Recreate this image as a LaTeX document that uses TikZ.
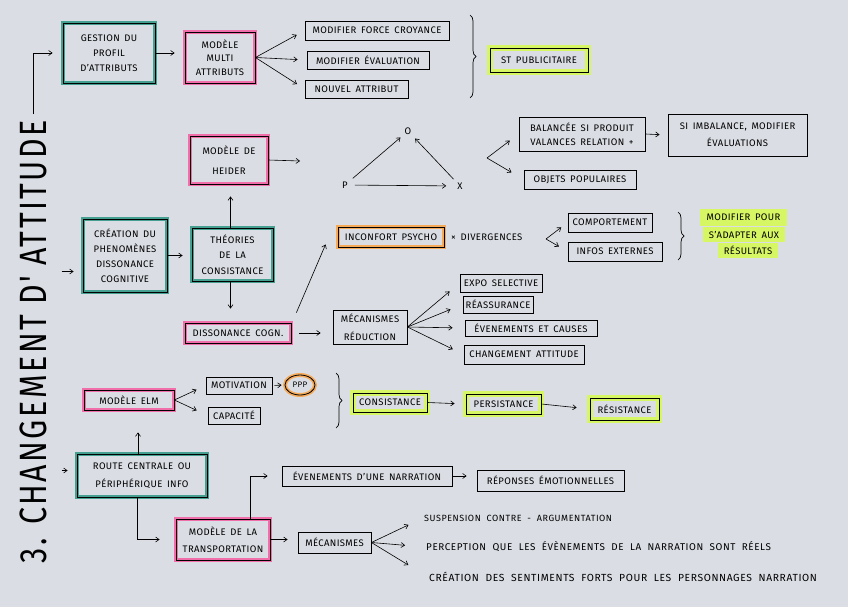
\documentclass[tikz,border=0pt]{standalone}
\usepackage{fontspec}
\usepackage{graphicx}
\setmainfont{Fira Sans}[LetterSpace=4,WordSpace=1.6]
\newfontfamily\widefont{Fira Sans}[LetterSpace=6,WordSpace=2]
\newfontfamily\titlefont{Fira Sans}[LetterSpace=8]
\usetikzlibrary{arrows.meta,shapes.geometric,decorations.pathreplacing}
\definecolor{paper}{RGB}{218,221,227}
\definecolor{tealc}{RGB}{70,160,145}
\definecolor{pinkc}{RGB}{240,110,170}
\definecolor{limec}{RGB}{215,246,100}
\definecolor{orangec}{RGB}{245,170,90}
\begin{document}
\begin{tikzpicture}[x=1pt,y=-1pt, font=\fontsize{9.5}{15}\selectfont,
  >={Straight Barb[length=3.5pt,width=5pt]},
  arr/.style={->, line width=0.6pt},
  plain/.style={draw=black, line width=0.8pt, align=center, inner sep=1pt},
  tealbox/.style={plain, preaction={draw=tealc, line width=4pt}},
  pinkbox/.style={plain, preaction={draw=pinkc, line width=4.5pt}},
  greenbox/.style={plain, preaction={draw=limec, line width=6pt}},
  orangebox/.style={plain, preaction={draw=orangec, line width=4pt}},
  lbl/.style={inner sep=1pt, align=center},
  hl/.style={fill=limec, inner sep=2pt},
  br/.style={decorate, decoration={brace, amplitude=6pt}, line width=0.7pt},
]
\fill[paper] (0,0) rectangle (848,607);
\useasboundingbox (0,0) rectangle (848,607);

% title
\node[rotate=90, font=\titlefont\fontsize{38}{38}\selectfont, inner sep=0pt] (title) at (33,342) {\scalebox{0.8}[1]{3. CHANGEMENT D' ATTITUDE}};

% top row
\node[tealbox, minimum width=92, minimum height=60] (gestion) at (109,53) {GESTION DU\\PROFIL\\D'ATTRIBUTS};
\node[pinkbox, minimum width=70, minimum height=51, font=\fontsize{9.5}{13.5}\selectfont] (multi) at (220,57.5) {MODÈLE\\MULTI\\ATTRIBUTS};
\node[plain, minimum width=144, minimum height=19] (mfc) at (377,30.5) {MODIFIER FORCE CROYANCE};
\node[plain, minimum width=122, minimum height=18] (mev) at (368,60) {MODIFIER ÉVALUATION};
\node[plain, minimum width=103, minimum height=18] (nat) at (356.5,89) {NOUVEL ATTRIBUT};
\node[greenbox, minimum width=98, minimum height=24] (stpub) at (539,60) {ST PUBLICITAIRE};
\draw[br] (470,15) -- (470,98);

\draw[arr, shorten >=10pt] ([yshift=6pt]title.east) |- (gestion.west);
\draw[arr, shorten >=10pt] (gestion.east) -- (gestion.east -| multi.west);
\draw[arr, shorten >=9pt] (multi.east) -- (mfc.west);
\draw[arr, shorten >=9pt] (multi.east) -- (mev.west);
\draw[arr, shorten >=9pt] (multi.east) -- (nat.west);

% Heider
\node[pinkbox, minimum width=78, minimum height=48, font=\fontsize{9.5}{20}\selectfont] (heider) at (229,160) {MODÈLE DE\\HEIDER};
\coordinate (tri) at (300,161);
\draw[arr] (heider.east) -- (tri);
\node[lbl] (P) at (345,185) {P};
\node[lbl] (O) at (408,131) {O};
\node[lbl] (X) at (460,186) {X};
\draw[arr, shorten <=5pt, shorten >=4pt] (P) -- (O);
\draw[arr, shorten <=6pt, shorten >=10pt] (P) -- (X);
\draw[arr, shorten <=4pt, shorten >=4pt] (X) -- (O);
\node[plain, minimum width=126, minimum height=34, font=\fontsize{9.5}{14}\selectfont] (balance) at (582,134) {BALANCÉE SI PRODUIT\\VALANCES RELATION +};
\node[plain, minimum width=139, minimum height=42, font=\fontsize{9.5}{17}\selectfont] (imbal) at (737.5,135) {SI IMBALANCE, MODIFIER\\ÉVALUATIONS};
\node[plain, minimum width=112, minimum height=19] (objets) at (580,179.5) {OBJETS POPULAIRES};
\coordinate (fh) at (487,158);
\draw[arr, shorten >=11pt] (fh) -- (balance.west);
\draw[arr, shorten >=14pt] (fh) -- (objets.west);
\draw[arr, shorten >=8pt] (balance.east) -- (imbal.west);

% dissonance
\node[tealbox, minimum width=84, minimum height=73] (creation) at (125,255.5) {CRÉATION DU\\PHENOMÈNES\\DISSONANCE\\COGNITIVE};
\node[tealbox, minimum width=81, minimum height=53, font=\fontsize{9.5}{15.5}\selectfont] (theories) at (232.5,254.5) {THÉORIES\\DE LA\\CONSISTANCE};
\node[pinkbox, minimum width=106, minimum height=20] (disso) at (238,333) {DISSONANCE COGN.};
\draw[arr] ([xshift=-21pt,yshift=-16pt]creation.west) -- ([xshift=-9pt,yshift=-16pt]creation.west);
\draw[arr, shorten >=9pt] (creation.east) -- (creation.east -| theories.west);
\draw[arr, shorten >=12pt] ([xshift=-2pt]theories.north) -- ([xshift=-2pt]theories.north |- heider.south);
\draw[arr, shorten >=14pt] ([xshift=-2pt]theories.south) -- ([xshift=-2pt]theories.south |- disso.north);

\node[orangebox, minimum width=106, minimum height=20] (inconf) at (391,237) {INCONFORT PSYCHO};
\node[lbl, anchor=west] (div) at (450,237) {× DIVERGENCES};
\draw[arr] ([xshift=5pt,yshift=10pt]disso.north east) -- ([xshift=-12pt,yshift=3pt]inconf.south west);
\node[plain, minimum width=84, minimum height=19] (comport) at (610,222.5) {COMPORTEMENT};
\node[plain, minimum width=94, minimum height=19] (infos) at (615,251.5) {INFOS EXTERNES};
\coordinate (fd) at (546,239);
\draw[arr, shorten >=8pt] (fd) -- (comport.west);
\draw[arr, shorten >=10pt] (fd) -- (infos.west);
\draw[br] (678,212) -- (678,260);
\node[hl, minimum width=87, minimum height=17] (mp1) at (743.5,217.5) {MODIFIER POUR};
\node[hl, minimum width=82, minimum height=15] (mp2) at (744,234.5) {S'ADAPTER AUX};
\node[hl, minimum width=60, minimum height=15] (mp3) at (748,250.5) {RÉSULTATS};

\node[plain, minimum width=74, minimum height=34, font=\fontsize{9.5}{18}\selectfont] (mecred) at (370,327) {MÉCANISMES\\RÉDUCTION};
\draw[arr, shorten <=8pt, shorten >=12pt] (disso.east) -- (disso.east -| mecred.west);
\node[plain, minimum width=82, minimum height=18] (expo) at (501,283) {EXPO SELECTIVE};
\node[plain, minimum width=70, minimum height=17] (reass) at (498,304.5) {RÉASSURANCE};
\node[plain, minimum width=132, minimum height=16] (evc) at (531,328) {ÉVENEMENTS ET CAUSES};
\node[plain, minimum width=120, minimum height=19] (chg) at (524,354.5) {CHANGEMENT ATTITUDE};
\draw[arr, shorten >=13pt] (mecred.east) -- (expo.west);
\draw[arr, shorten >=13pt] (mecred.east) -- (reass.west);
\draw[arr, shorten >=12pt] (mecred.east) -- (evc.west);
\draw[arr, shorten >=12pt] (mecred.east) -- (chg.west);

% ELM
\node[pinkbox, minimum width=90, minimum height=20] (elm) at (129,400) {MODÈLE ELM};
\node[plain, minimum width=66, minimum height=17] (motiv) at (239,385.5) {MOTIVATION};
\node[plain, minimum width=52, minimum height=17] (capac) at (234,415.5) {CAPACITÉ};
\node[ellipse, draw=black, line width=0.8pt, preaction={draw=orangec, line width=4pt}, minimum width=30, minimum height=20, inner sep=0pt, font=\fontsize{8}{9}\selectfont] (ppp) at (300,385) {PPP};
\draw[arr, shorten >=10pt] (elm.east) -- (motiv.west);
\draw[arr, shorten >=12pt] (elm.east) -- (capac.west);
\draw[arr, shorten <=2pt, shorten >=3pt] (motiv.east) -- (ppp.west);
\draw[br] (336,373) -- (336,428);
\node[greenbox, minimum width=74, minimum height=19] (consist) at (390,402.5) {CONSISTANCE};
\node[greenbox, minimum width=75, minimum height=20] (persist) at (503.5,404) {PERSISTANCE};
\node[greenbox, minimum width=69, minimum height=22] (resist) at (624.5,409) {RÉSISTANCE};
\draw[arr, shorten >=11pt] (consist.east) -- (persist.west);
\draw[arr, shorten >=13pt] (persist.east) -- (resist.west);

% route
\node[tealbox, minimum width=130, minimum height=43, font=\fontsize{9.5}{18}\selectfont] (route) at (142,475.5) {ROUTE CENTRALE OU\\PÉRIPHÉRIQUE INFO};
\draw[arr] ([xshift=-15pt,yshift=5pt]route.west) -- ([xshift=-9pt,yshift=5pt]route.west);
\draw[arr, shorten >=22pt] ([xshift=-4pt]route.north) -- ([xshift=-4pt]route.north |- elm.south);
\node[pinkbox, minimum width=94, minimum height=41, font=\fontsize{9.5}{17}\selectfont] (transp) at (223,539.5) {MODÈLE DE LA\\TRANSPORTATION};
\draw[arr, shorten >=16pt] ([xshift=-5pt]route.south) |- (transp.west);
\node[plain, minimum width=170, minimum height=20] (evn) at (367,476) {ÉVENEMENTS D'UNE NARRATION};
\node[plain, minimum width=147, minimum height=21] (rep) at (550.5,480.5) {RÉPONSES ÉMOTIONNELLES};
\draw[arr, shorten >=14pt] ([xshift=27pt]transp.north) |- (evn.west);
\draw[arr, shorten >=10pt] (evn.east) -- (evn.east -| rep.west);
\node[plain, minimum width=73, minimum height=21] (mecan) at (334.5,542.5) {MÉCANISMES};
\draw[arr, shorten >=10pt] (transp.east) -- (transp.east -| mecan.west);
\node[lbl, anchor=west, font=\widefont\fontsize{9}{10}\selectfont] (susp) at (423,518) {SUSPENSION CONTRE - ARGUMENTATION};
\node[lbl, anchor=west, font=\widefont\fontsize{9.85}{10}\selectfont] (perc) at (425,547) {PERCEPTION QUE LES ÉVÈNEMENTS DE LA NARRATION SONT RÉELS};
\node[lbl, anchor=west, font=\widefont\fontsize{10.3}{11}\selectfont] (creat) at (428,577) {CRÉATION DES SENTIMENTS FORTS POUR LES PERSONNAGES NARRATION};
\draw[arr, shorten >=16pt] (mecan.east) -- (susp.west);
\draw[arr, shorten >=20pt] (mecan.east) -- (perc.west);
\draw[arr, shorten >=23pt] (mecan.east) -- (creat.west);
\end{tikzpicture}
\end{document}
